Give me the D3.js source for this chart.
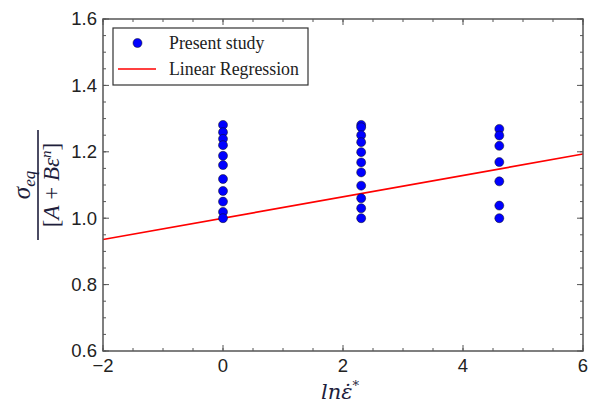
<!DOCTYPE html>
<html>
<head>
<meta charset="utf-8">
<script src="https://cdn.jsdelivr.net/npm/d3@7"></script>
<style>
  body { margin: 0; background: #fff; }
  svg { display: block; }
</style>
</head>
<body>
<svg id="chart"></svg>
<script>
const width = 593, height = 405;
const margin = { top: 19, right: 10, bottom: 54, left: 103 };

// strain-rate columns (ln of 1, 10, 100)
const rateX = [0, 2.303, 4.605];
const valuesAt0 = [1.281, 1.259, 1.239, 1.220, 1.188, 1.160, 1.118, 1.082, 1.050, 1.019, 1.000];
const valuesAt1 = [1.281, 1.274, 1.250, 1.229, 1.199, 1.168, 1.138, 1.098, 1.060, 1.030, 1.000];
const valuesAt2 = [1.269, 1.249, 1.218, 1.169, 1.111, 1.038, 1.000];
const fitIntercept = 1.0, fitSlope = 0.0322;
const xTicks = [-2, 0, 2, 4, 6];
const yTicks = [0.6, 0.8, 1.0, 1.2, 1.4, 1.6];
const legendLabels = ["Present study", "Linear Regression"];

const points = [valuesAt0, valuesAt1, valuesAt2]
  .flatMap((vals, i) => vals.map(v => ({ x: rateX[i], y: v })));

const svg = d3.select("#chart").attr("width", width).attr("height", height);
const x = d3.scaleLinear().domain([-2, 6]).range([margin.left, width - margin.right]);
const y = d3.scaleLinear().domain([0.6, 1.6]).range([height - margin.bottom, margin.top]);
const x0 = x.range()[0], x1 = x.range()[1], y0 = y.range()[0], y1 = y.range()[1];

const tickColor = "#555";
// inward ticks on all four sides, major + minor
function ticksOn(scale, vals, len, horiz) {
  const g = svg.append("g").attr("stroke", tickColor).attr("stroke-width", 1);
  vals.forEach(v => {
    const p = scale(v);
    if (horiz) {
      g.append("line").attr("x1", p).attr("x2", p).attr("y1", y0).attr("y2", y0 - len);
      g.append("line").attr("x1", p).attr("x2", p).attr("y1", y1).attr("y2", y1 + len);
    } else {
      g.append("line").attr("y1", p).attr("y2", p).attr("x1", x0).attr("x2", x0 + len);
      g.append("line").attr("y1", p).attr("y2", p).attr("x1", x1).attr("x2", x1 - len);
    }
  });
}
ticksOn(x, d3.range(-2, 6.01, 0.5), 3, true);
ticksOn(x, xTicks, 6, true);
ticksOn(y, d3.range(0.6, 1.601, 0.05), 3, false);
ticksOn(y, yTicks, 6, false);

// tick labels
svg.append("g").selectAll("text").data(xTicks).join("text")
  .attr("x", d => x(d)).attr("y", y0 + 21)
  .attr("text-anchor", "middle")
  .attr("font-family", "Liberation Sans, Arial, sans-serif").attr("font-size", 18.5)
  .attr("fill", "#222")
  .text(d => d < 0 ? "\u2212" + Math.abs(d) : d);
svg.append("g").selectAll("text").data(yTicks).join("text")
  .attr("x", x0 - 6).attr("y", d => y(d)).attr("dy", "0.35em")
  .attr("text-anchor", "end")
  .attr("font-family", "Liberation Sans, Arial, sans-serif").attr("font-size", 18.5)
  .attr("fill", "#222")
  .text(d => d.toFixed(1));

// regression line
const fit = d3.line().x(d => x(d)).y(d => y(fitIntercept + fitSlope * d));
svg.append("path").datum(x.domain())
  .attr("d", fit).attr("fill", "none").attr("stroke", "#ff0000").attr("stroke-width", 1.6);

// data points
svg.append("g").selectAll("circle").data(points).join("circle")
  .attr("cx", d => x(d.x)).attr("cy", d => y(d.y)).attr("r", 4.5)
  .attr("fill", "#0000ff").attr("stroke", "#111").attr("stroke-width", 0.5);

// frame
svg.append("rect").attr("x", x0).attr("y", y1).attr("width", x1 - x0).attr("height", y0 - y1)
  .attr("fill", "none").attr("stroke", tickColor).attr("stroke-width", 1.5);

// legend
const lg = svg.append("g");
lg.append("rect").attr("x", 113).attr("y", 28).attr("width", 195).attr("height", 57)
  .attr("fill", "#fff").attr("stroke", "#333").attr("stroke-width", 1.2);
lg.append("circle").attr("cx", 137.5).attr("cy", 43).attr("r", 4.5)
  .attr("fill", "#0000ff").attr("stroke", "#111").attr("stroke-width", 0.5);
lg.append("line").attr("x1", 118).attr("x2", 156).attr("y1", 69).attr("y2", 69)
  .attr("stroke", "#ff0000").attr("stroke-width", 1.6);
lg.selectAll("text").data(legendLabels).join("text")
  .attr("x", 169).attr("y", (d, i) => 48.5 + i * 26)
  .attr("font-family", "Liberation Serif, Times New Roman, serif").attr("font-size", 17.8)
  .attr("fill", "#222")
  .text(d => d);

// x label
const labelColor = "#1e1e3c";
const xl = svg.append("text").attr("x", 340).attr("y", 399).attr("text-anchor", "middle")
  .attr("font-family", "DejaVu Serif, Liberation Serif, serif").attr("font-style", "italic")
  .attr("font-size", 21).attr("fill", labelColor);
xl.append("tspan").text("ln\u03B5\u0307");
xl.append("tspan").attr("dy", -9).attr("font-size", 13).text("*");

// y label: fraction, rotated
const yl = svg.append("g").attr("transform", `translate(38,${(y0 + y1) / 2}) rotate(-90)`)
  .attr("fill", labelColor);
yl.append("line").attr("x1", -55).attr("x2", 55).attr("y1", 0).attr("y2", 0)
  .attr("stroke", labelColor).attr("stroke-width", 1.6);
const num = yl.append("text").attr("x", 0).attr("y", -8).attr("text-anchor", "middle")
  .attr("font-family", "Liberation Serif, serif").attr("font-style", "italic").attr("font-size", 25);
num.append("tspan").text("\u03C3");
num.append("tspan").attr("dy", 5).attr("font-size", 17).text("eq");
const den = yl.append("text").attr("x", 0).attr("y", 21).attr("text-anchor", "middle")
  .attr("font-family", "Liberation Serif, serif").attr("font-size", 23);
den.append("tspan").text("[");
den.append("tspan").attr("font-style", "italic").text("A");
den.append("tspan").text(" + ");
den.append("tspan").attr("font-style", "italic").text("B\u03B5");
den.append("tspan").attr("dy", -8).attr("font-size", 15).attr("font-style", "italic").text("n");
den.append("tspan").attr("dy", 8).text("]");
</script>
</body>
</html>
